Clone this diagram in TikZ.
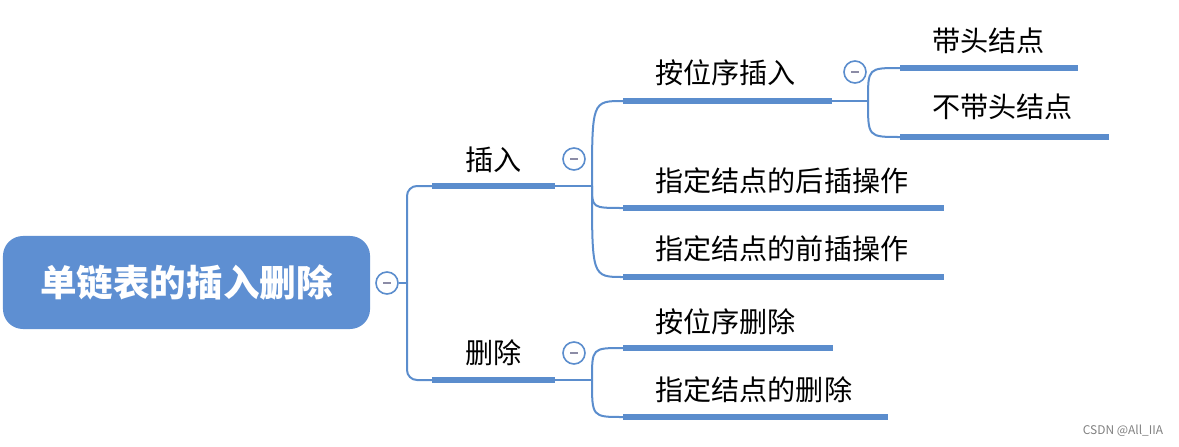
\documentclass[tikz,border=0pt]{standalone}
\usepackage{fontspec}
\setmainfont{Noto Sans CJK SC}
\definecolor{map blue}{HTML}{5B8DCD}
\definecolor{root blue}{HTML}{5E8FD2}
\definecolor{minus grey}{HTML}{8C8CA6}
\tikzset{
  root/.style = {fill = root blue, rounded corners = 0.5 cm, inner sep = 0 pt,
    minimum width = 9.175 cm, minimum height = 2.325 cm, text = white,
    font = \fontsize{26}{30}\selectfont\bfseries},
  bar/.style = {fill = map blue, inner sep = 0 pt, outer sep = 0 pt,
    minimum height = 0.15 cm, anchor = west},
  topic/.style = {inner sep = 0 pt, anchor = west, font = \fontsize{20}{24}\selectfont},
  link/.style = {draw = map blue, line width = 0.05 cm},
  fold/.style = {circle, draw = map blue, fill = white, line width = 0.04 cm,
    minimum size = 0.55 cm, inner sep = 0 pt,
    path picture = {\draw[minus grey, line width = 0.05 cm]
      ([xshift = -0.1 cm]path picture bounding box.center) --
      ([xshift = 0.1 cm]path picture bounding box.center);}}
}

\begin{document}
\begin{tikzpicture}[x = 0.025 cm, y = -0.025 cm]
  \useasboundingbox (0, 0) rectangle (1179, 447);

  % root
  \node[root] (root) at (186.5, 282.5) {单链表的插入删除};
  \node[fold] (fRoot) at (387, 283) {};
  \coordinate (jRoot) at (407, 283);

  % first level
  \node[bar, minimum width = 3.075 cm] (bIns) at (432, 186) {};
  \node[topic] (tIns) at (465, 160) {插入};
  \coordinate (jIns) at (592, 186);
  \node[bar, minimum width = 3.075 cm] (bDel) at (432, 380) {};
  \node[topic] (tDel) at (465, 353) {删除};
  \coordinate (jDel) at (592, 380);

  \draw[link] (fRoot) -- (jRoot);
  \draw[link, rounded corners = 0.25 cm] (jRoot) |- (bIns.west);
  \draw[link, rounded corners = 0.25 cm] (jRoot) |- (bDel.west);
  \draw[link] (bIns.east) -- (jIns);
  \draw[link] (bDel.east) -- (jDel);

  % insert
  \node[bar, minimum width = 5.225 cm] (bPosIns) at (623, 101) {};
  \node[topic] (tPosIns) at (655, 73) {按位序插入};
  \coordinate (jPosIns) at (868, 101);
  \node[bar, minimum width = 8.025 cm] (bAfter) at (623, 208) {};
  \node[topic] (tAfter) at (655, 181) {指定结点的后插操作};
  \node[bar, minimum width = 8.025 cm] (bBefore) at (623, 277) {};
  \node[topic] (tBefore) at (655, 249) {指定结点的前插操作};

  \draw[link] (jIns) .. controls (jIns |- bPosIns.west) .. (bPosIns.west);
  \draw[link] (jIns) .. controls (jIns |- bAfter.west) .. (bAfter.west);
  \draw[link] (jIns) .. controls (jIns |- bBefore.west) .. (bBefore.west);
  \draw[link] (bPosIns.east) -- (jPosIns);

  % head node or not
  \node[bar, minimum width = 4.45 cm] (bHead) at (900, 68) {};
  \node[topic] (tHead) at (932, 41) {带头结点};
  \node[bar, minimum width = 5.225 cm] (bNoHead) at (900, 137) {};
  \node[topic] (tNoHead) at (932, 107) {不带头结点};

  \draw[link] (jPosIns) .. controls (jPosIns |- bHead.west) .. (bHead.west);
  \draw[link] (jPosIns) .. controls (jPosIns |- bNoHead.west) .. (bNoHead.west);

  % delete
  \node[bar, minimum width = 5.25 cm] (bPosDel) at (623, 348) {};
  \node[topic] (tPosDel) at (655, 322) {按位序删除};
  \node[bar, minimum width = 6.625 cm] (bNodeDel) at (623, 417) {};
  \node[topic] (tNodeDel) at (655, 390) {指定结点的删除};

  \draw[link] (jDel) .. controls (jDel |- bPosDel.west) .. (bPosDel.west);
  \draw[link] (jDel) .. controls (jDel |- bNodeDel.west) .. (bNodeDel.west);

  % fold buttons
  \node[fold] (fIns) at (574, 159) {};
  \node[fold] (fDel) at (574, 353) {};
  \node[fold] (fPosIns) at (855, 72) {};

  \node[text = gray, font = \fontsize{8.5}{10}\selectfont] (mark) at (1123, 431) {CSDN @All\_IIA};
\end{tikzpicture}
\end{document}
